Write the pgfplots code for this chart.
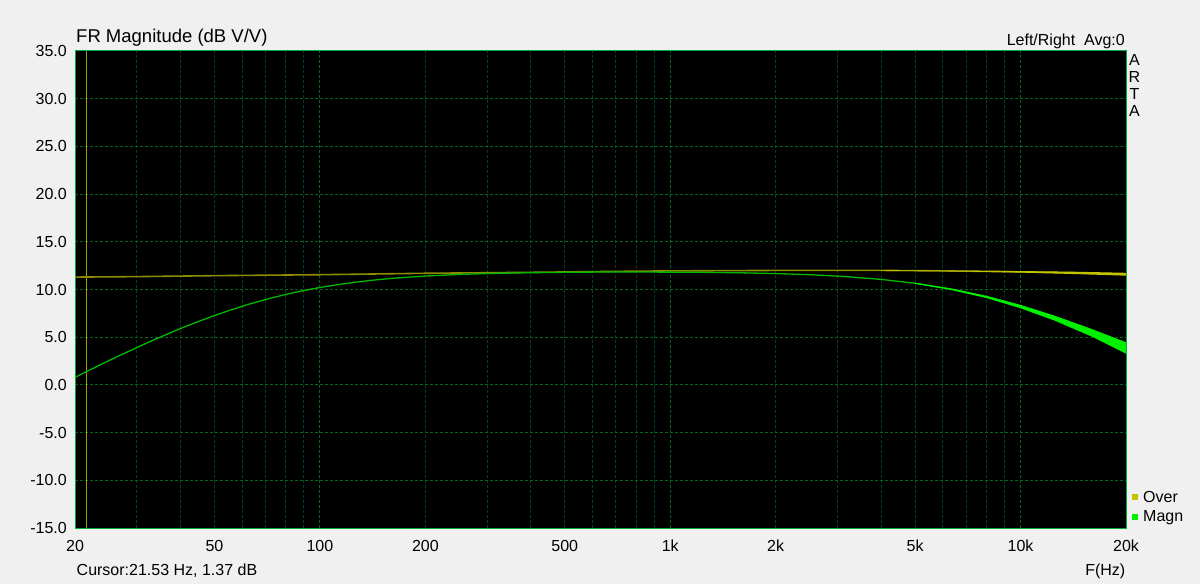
\documentclass[border=0pt]{standalone}
\usepackage{fontspec}
\setmainfont{Liberation Sans}
\usepackage{pgfplots}
\pgfplotsset{compat=1.18}

\definecolor{winbg}{RGB}{240,240,240}
\definecolor{frame}{RGB}{0,170,60}
\definecolor{gridmaj}{RGB}{0,105,30}
\definecolor{gridmin}{RGB}{0,70,20}
\definecolor{over}{RGB}{140,140,0}
\definecolor{overband}{RGB}{195,195,0}
\definecolor{magn}{RGB}{0,185,0}
\definecolor{magnband}{RGB}{0,240,0}
\definecolor{cursor}{RGB}{160,160,0}

\newcommand{\txt}{\fontsize{16}{19}\selectfont}

\begin{document}
\begin{tikzpicture}
  \fill[winbg] (0pt,0pt) rectangle (1200pt,584pt);

  \begin{axis}[
      at={(75pt,56pt)}, anchor=south west,
      scale only axis,
      width=1051pt, height=477pt,
      xmode=log,
      xmin=20, xmax=20000,
      ymin=-15, ymax=35,
      xtick={100,1000,10000},
      xticklabels={,,},
      minor xtick={30,40,50,60,70,80,90,200,300,400,500,600,700,800,900,
                   2000,3000,4000,5000,6000,7000,8000,9000},
      extra x ticks={20,50,100,200,500,1000,2000,5000,10000,20000},
      extra x tick labels={20,50,100,200,500,1k,2k,5k,10k,20k},
      extra x tick style={grid=none, major tick length=0pt},
      ytick={-15,-10,-5,0,5,10,15,20,25,30,35},
      yticklabels={-15.0,-10.0,-5.0,0.0,5.0,10.0,15.0,20.0,25.0,30.0,35.0},
      xmajorgrids, xminorgrids, ymajorgrids,
      major grid style={gridmaj, dash pattern=on 3pt off 2pt, line width=1pt},
      minor grid style={gridmin, dash pattern=on 3pt off 2pt, line width=1pt},
      major tick length=0pt, minor tick length=0pt,
      axis line style={frame, line width=1pt},
      axis background/.style={fill=black},
      tick label style={font=\txt},
      xticklabel style={anchor=base, inner sep=0pt, yshift=-23.7pt},
      yticklabel style={anchor=east, inner sep=0pt, xshift=-8pt},
    ]

    % cursor at 21.53 Hz
    \addplot[cursor, line width=1pt] coordinates {(21.53,-15) (21.53,35)};

    % Over
    \addplot[over, line width=1.6pt] coordinates {
      (20,11.30) (30,11.35) (50,11.45) (100,11.55) (200,11.70) (400,11.80)
      (700,11.90) (1000,11.95) (2000,12.00) (4000,12.00) (6000,11.95)
      (8000,11.90) (10000,11.85) (14000,11.75) (20000,11.60)
    };
    \addplot[fill=overband, draw=none] coordinates {
      (4000,12.03) (6000,11.99) (8000,11.96) (10000,11.93) (14000,11.87) (20000,11.75)
      (20000,11.45) (14000,11.63) (10000,11.77) (8000,11.84) (6000,11.91) (4000,11.97)
    } -- cycle;

    % Magn
    \addplot[magn, line width=1.3pt] coordinates {
      (20,0.79) (22,1.55) (25,2.55) (28,3.40) (32,4.38) (36,5.20) (40,5.91)
      (45,6.65) (50,7.27) (56,7.89) (63,8.48) (71,9.01) (80,9.49) (90,9.89)
      (100,10.21) (112,10.50) (125,10.74) (140,10.96) (160,11.16) (180,11.30)
      (200,11.41) (250,11.58) (315,11.69) (400,11.76) (500,11.80) (630,11.83)
      (800,11.83) (1000,11.82) (1250,11.80) (1600,11.75) (2000,11.67)
      (2500,11.55) (3150,11.36) (4000,11.06) (5000,10.65) (6300,10.05)
      (8000,9.22) (10000,8.21) (12500,7.00) (16000,5.45) (20000,3.87)
    };
    \addplot[fill=magnband, draw=none] coordinates {
      (5000,10.70) (6300,10.13) (8000,9.34) (10000,8.39) (12500,7.26) (16000,5.85) (20000,4.47)
      (20000,3.27) (16000,5.05) (12500,6.74) (10000,8.03) (8000,9.10) (6300,9.97) (5000,10.60)
    } -- cycle;
  \end{axis}

  % titles and captions
  \node[anchor=base west, inner sep=0pt, font=\fontsize{18.5}{22}\selectfont]
    at (76pt,541.3pt) {FR Magnitude (dB V/V)};
  \node[anchor=base east, inner sep=0pt, font=\txt]
    at (1125pt,538pt) {Left/Right\ \ Avg:0};
  \node[anchor=base west, inner sep=0pt, font=\txt]
    at (76.5pt,9pt) {Cursor:21.53 Hz, 1.37 dB};
  \node[anchor=base east, inner sep=0pt, font=\txt]
    at (1125.5pt,9pt) {F(Hz)};

  % ARTA
  \node[anchor=base, inner sep=0pt, font=\txt] at (1134.5pt,518.3pt) {A};
  \node[anchor=base, inner sep=0pt, font=\txt] at (1134.5pt,501.5pt) {R};
  \node[anchor=base, inner sep=0pt, font=\txt] at (1134.5pt,484.7pt) {T};
  \node[anchor=base, inner sep=0pt, font=\txt] at (1134.5pt,467.9pt) {A};

  % legend
  \fill[overband] (1132pt,84pt) rectangle (1137.5pt,89.5pt);
  \node[anchor=base west, inner sep=0pt, font=\txt] at (1143pt,81.3pt) {Over};
  \fill[magnband] (1132pt,64pt) rectangle (1137.5pt,69.5pt);
  \node[anchor=base west, inner sep=0pt, font=\txt] at (1143pt,62pt) {Magn};
\end{tikzpicture}
\end{document}
